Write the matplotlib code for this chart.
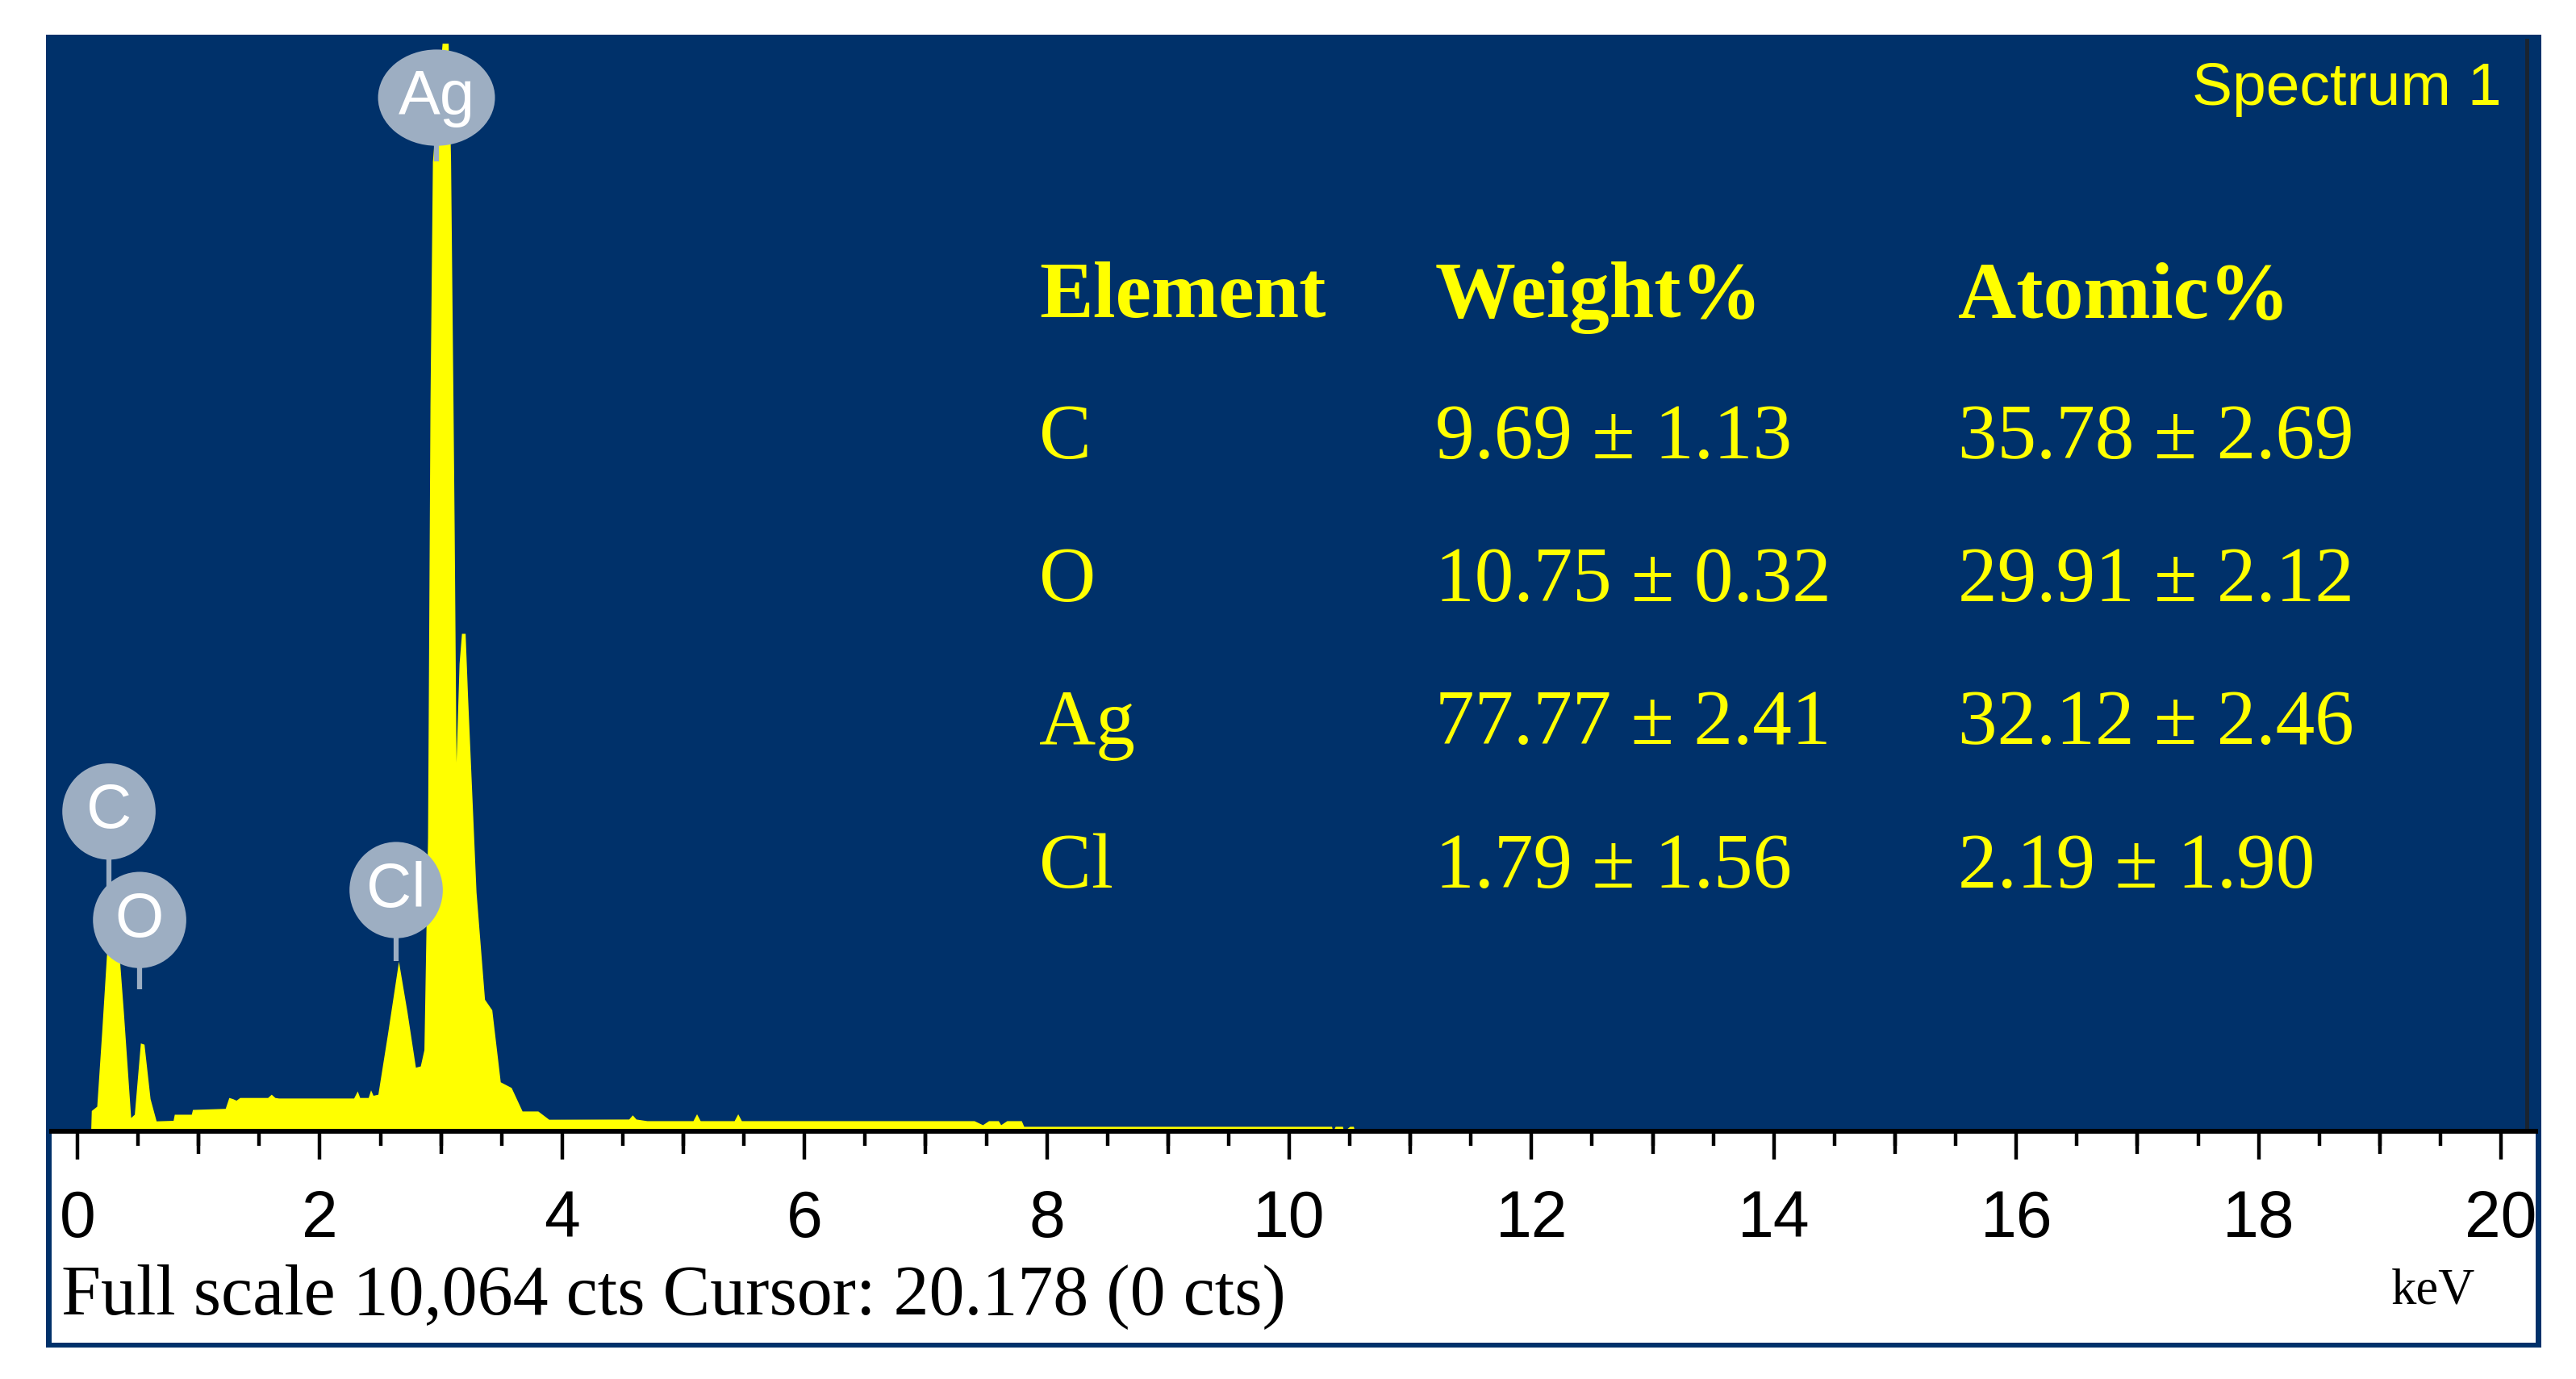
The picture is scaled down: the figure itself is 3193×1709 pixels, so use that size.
import matplotlib
matplotlib.use("Agg")
import matplotlib.pyplot as plt
from matplotlib.patches import Ellipse, Rectangle
from matplotlib.ticker import MultipleLocator, FixedLocator

# ---------------- data ----------------
full_scale_cts = 10064

energy_kev = [0.00, 0.11, 0.115, 0.16, 0.20, 0.24, 0.27, 0.30, 0.35, 0.38, 0.44,
              0.47, 0.52, 0.55, 0.60, 0.65, 0.79, 0.80, 0.94, 0.95, 1.22, 1.25,
              1.28, 1.31, 1.34, 1.57, 1.60, 1.63, 1.66, 2.28, 2.31, 2.33, 2.40,
              2.42, 2.44, 2.48, 2.56, 2.65, 2.72, 2.79, 2.83, 2.86, 2.89, 2.91,
              2.93, 3.01, 3.06, 3.08, 3.10, 3.11, 3.125, 3.15, 3.17, 3.20, 3.22,
              3.29, 3.36, 3.42, 3.49, 3.58, 3.67, 3.80, 3.89, 4.55, 4.58, 4.61,
              4.70, 5.08, 5.11, 5.14, 5.42, 5.45, 5.48, 7.40, 7.47, 7.52, 7.60,
              7.62, 7.67, 7.79, 7.81, 10.35, 10.36, 10.38, 10.44, 10.45, 10.50,
              10.53, 10.54, 20.0]
counts = [0, 0, 190, 230, 900, 1614, 1900, 1800, 1540, 1094, 126,
          156, 811, 800, 300, 95, 100, 156, 156, 200, 210, 310,
          300, 285, 310, 310, 340, 310, 305, 305, 370, 310, 310,
          380, 330, 340, 900, 1562, 1100, 588, 600, 750, 2700, 6681,
          8913, 10000, 10000, 8913, 6681, 5500, 3393, 4300, 4576, 4576, 4000,
          2200, 1213, 1116, 454, 402, 186, 186, 110, 112, 150, 112,
          97, 97, 160, 97, 97, 160, 97, 97, 60, 97, 97,
          60, 97, 97, 45, 45, 0, 45, 45, 0, 45,
          45, 0, 0]

peak_labels = ["C", "O", "Cl", "Ag"]
peak_label_kev = [0.26, 0.513, 2.63, 2.963]
peak_label_cts = [2939, 1942, 2217, 9500]
peak_stem_end_cts = [1942, 1302, 1562, 8913]

table_header = ["Element", "Weight%", "Atomic%"]
elements = ["C", "O", "Ag", "Cl"]
weight_pct = ["9.69 ± 1.13", "10.75 ± 0.32", "77.77 ± 2.41", "1.79 ± 1.56"]
atomic_pct = ["35.78 ± 2.69", "29.91 ± 2.12", "32.12 ± 2.46", "2.19 ± 1.90"]

x_major = list(range(0, 21, 2))
x_mid = list(range(1, 20, 2))

# ---------------- layout helpers ----------------
W, H, DPI = 3193, 1709, 100
BLUE = "#00316A"
YELLOW = "#FFFF00"
LABEL_GRAY = "#9DAEC2"
SERIF = ["Liberation Serif", "DejaVu Serif"]
SANS = ["Liberation Sans", "DejaVu Sans"]


def fx(px):
    return px / W


def fy(py):
    return 1 - py / H


fig = plt.figure(figsize=(W / DPI, H / DPI), dpi=DPI, facecolor="white")

# outer blue frame and white axis strip
fig.patches.append(Rectangle((fx(57), fy(1670)), fx(3150) - fx(57), fy(43) - fy(1670),
                             transform=fig.transFigure, facecolor=BLUE, edgecolor="none", zorder=0))
fig.patches.append(Rectangle((fx(64), fy(1664)), fx(3143) - fx(64), fy(1402) - fy(1664),
                             transform=fig.transFigure, facecolor="white", edgecolor="none", zorder=0))

# axes: left 64px, right 3143px, bottom 1402px, top 45px
ax_left, ax_right, ax_bottom, ax_top = 64, 3143, 1402, 45
ax = fig.add_axes([fx(ax_left), fy(ax_bottom), fx(ax_right) - fx(ax_left), fy(ax_top) - fy(ax_bottom)])
ax.set_zorder(2)
ax.patch.set_alpha(0)

px_per_kev = 150.2
zero_px = 96
ax.set_xlim((ax_left - zero_px) / px_per_kev, (ax_right - zero_px) / px_per_kev)
ax.set_ylim(0, full_scale_cts)

ax.fill_between(energy_kev, counts, 0, color=YELLOW, linewidth=0, zorder=2)

# peak label markers
for lab, ek, ec, se in zip(peak_labels, peak_label_kev, peak_label_cts, peak_stem_end_cts):
    wk = 0.965 if lab == "Ag" else 0.77
    ax.plot([ek, ek], [ec, se], color=LABEL_GRAY, lw=4.5, solid_capstyle="butt", zorder=3)
    ax.add_patch(Ellipse((ek, ec), wk, 885, facecolor=LABEL_GRAY, edgecolor="none", zorder=4))
    ax.text(ek, ec, lab, color="white", fontsize=56, family=SANS, ha="center", va="center",
            zorder=5)

# spines and ticks
for s in ["top", "left", "right"]:
    ax.spines[s].set_visible(False)
ax.spines["bottom"].set_linewidth(4.3)
ax.spines["bottom"].set_color("black")
ax.spines["bottom"].set_zorder(6)
ax.set_yticks([])
ax.xaxis.set_major_locator(FixedLocator(x_major))
ax.xaxis.set_minor_locator(MultipleLocator(0.5))
ax.set_xticklabels([str(v) for v in x_major])
ax.tick_params(axis="x", which="major", direction="out", length=25, width=3.2, color="black",
               pad=27, labelsize=58, labelcolor="black")
ax.tick_params(axis="x", which="minor", direction="out", length=13, width=3.2, color="black")
for lbl in ax.get_xticklabels():
    lbl.set_family(SANS)

sec = ax.secondary_xaxis("bottom")
sec.xaxis.set_major_locator(FixedLocator(x_mid))
sec.set_xticklabels([])
sec.tick_params(axis="x", which="major", direction="out", length=20, width=3.2, color="black")
sec.xaxis.set_minor_locator(FixedLocator([]))
sec.spines["bottom"].set_visible(False)

# dark vertical marker at right edge
ax.plot([0.9964, 0.9964], [0.0, 0.9963], transform=ax.transAxes, color="#1A2430", lw=3.6, zorder=3)

# "Spectrum 1"
fig.text(fx(3101), fy(130), "Spectrum 1", color=YELLOW, fontsize=54, family=SANS,
         ha="right", va="baseline")

# quantification table
col_px = [1288, 1779, 2427]
row_baseline_px = [393, 568, 745, 922, 1100]
for c, txt in zip(col_px, table_header):
    fig.text(fx(c), fy(row_baseline_px[0]), txt, color=YELLOW, fontsize=72, family=SERIF,
             fontweight="bold", ha="left", va="baseline")
for i, (el, wp, ap) in enumerate(zip(elements, weight_pct, atomic_pct)):
    yb = fy(row_baseline_px[i + 1])
    for c, txt in zip(col_px, [el, wp, ap]):
        fig.text(fx(c), yb, txt, color=YELLOW, fontsize=70, family=SERIF, ha="left", va="baseline")

# footer texts
fig.text(fx(76), fy(1628), "Full scale 10,064 cts Cursor: 20.178 (0 cts)", color="black",
         fontsize=63.4, family=SERIF, ha="left", va="baseline")
fig.text(fx(3068), fy(1615), "keV", color="black", fontsize=45, family=SERIF,
         ha="right", va="baseline")

fig.savefig("out.png", dpi=DPI, facecolor="white")
